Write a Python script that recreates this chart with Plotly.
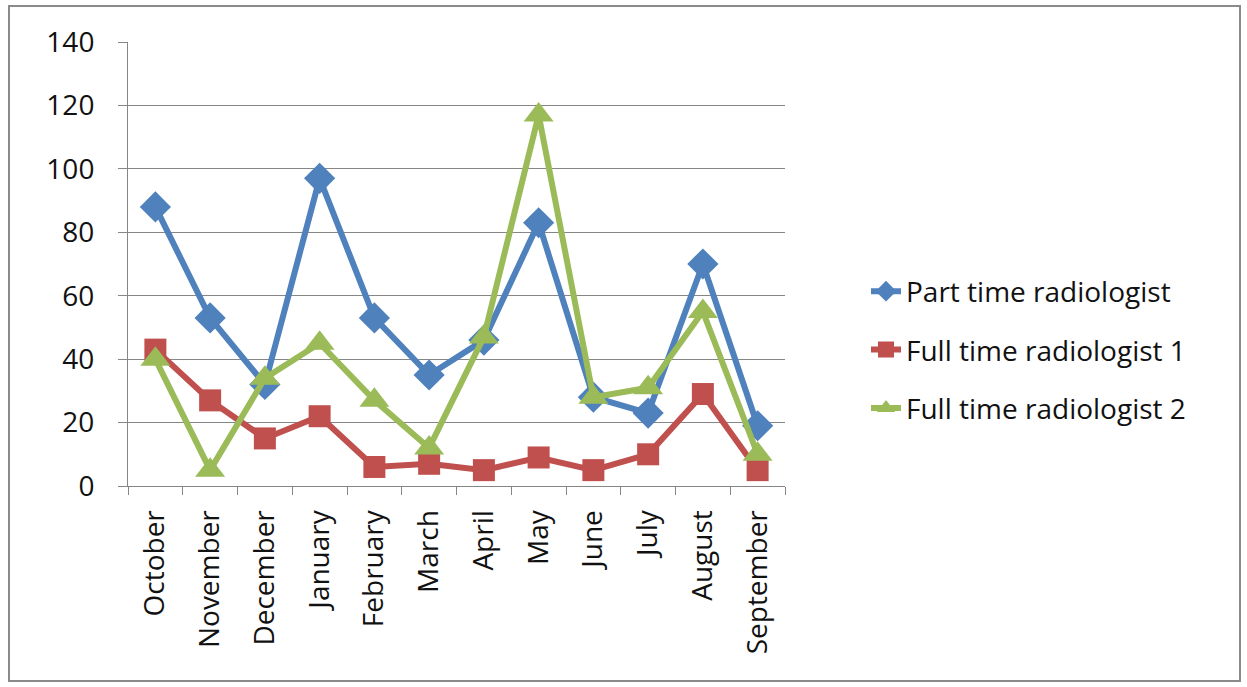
import plotly.graph_objects as go

months = ["October", "November", "December", "January", "February", "March",
          "April", "May", "June", "July", "August", "September"]
part_time = [88, 53, 32, 97, 53, 35, 46, 83, 28, 23, 70, 19]
full_time_1 = [43, 27, 15, 22, 6, 7, 5, 9, 5, 10, 29, 5]
full_time_2 = [40, 5, 34, 45, 27, 12, 47, 117, 28, 31, 55, 10]
y_ticks = [0, 20, 40, 60, 80, 100, 120, 140]

W, H = 1247, 687
L, R, T, B = 128, 785, 42, 486
FONT = "Open Sans, Lato, sans-serif"

series = [
    ("Part time radiologist", part_time, "#4F81BD", "diamond", 24),
    ("Full time radiologist 1", full_time_1, "#C0504D", "square", 22),
    ("Full time radiologist 2", full_time_2, "#9BBB59", "triangle-up", 26),
]

fig = go.Figure()
for i, (name, vals, col, sym, sz) in enumerate(series):
    fig.add_trace(go.Scatter(
        x=months, y=vals, name=name, mode="lines+markers",
        line=dict(color=col, width=6),
        marker=dict(symbol=sym, size=sz, color=col),
        legendgroup=str(i),
    ))

pw = R - L
ph = B - T
def px_x(p):
    return (p - L) / pw
def px_y(p):
    return (B - p) / ph

fig.update_layout(
    width=W, height=H,
    margin=dict(l=L, r=W - R, t=T, b=H - B),
    paper_bgcolor="white", plot_bgcolor="white",
    font=dict(family=FONT, size=24, color="#111111"),
    showlegend=True,
    legend=dict(
        x=px_x(866), y=px_y(350), xanchor="left", yanchor="middle",
        font=dict(size=28, family=FONT, color="#111111"),
        traceorder="grouped", tracegroupgap=19,
        bgcolor="rgba(0,0,0,0)",
    ),
    xaxis=dict(
        type="category", tickangle=-90,
        tickson="boundaries", ticks="outside", ticklen=8, tickcolor="#868686",
        showline=True, linecolor="#868686", linewidth=1,
        showgrid=False, zeroline=False,
        tickfont=dict(size=28, family=FONT, color="#111111"),
        ticklabelstandoff=12,
        range=[-0.5, 11.5],
    ),
    yaxis=dict(
        range=[0, 140], tickvals=y_ticks,
        ticks="outside", ticklen=9, tickcolor="#868686",
        showline=True, linecolor="#868686", linewidth=1,
        showgrid=True, gridcolor="#868686", gridwidth=1,
        zeroline=False,
        tickfont=dict(size=28, family=FONT, color="#111111"),
        ticklabelstandoff=18,
    ),
    shapes=[dict(
        type="rect", xref="paper", yref="paper",
        x0=px_x(9), x1=px_x(1240), y0=px_y(681), y1=px_y(6),
        line=dict(color="#8a8a8a", width=2), fillcolor="rgba(0,0,0,0)",
        layer="below",
    )],
)

fig.write_html("out.html")
